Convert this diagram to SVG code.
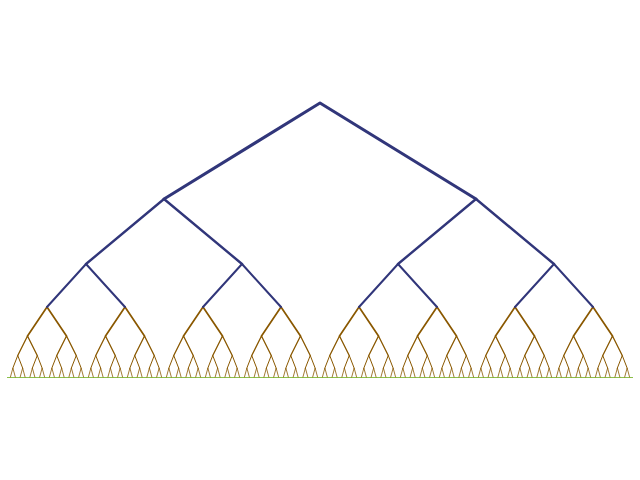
<svg xmlns="http://www.w3.org/2000/svg" xmlns:xlink="http://www.w3.org/1999/xlink" width="640" height="480" viewBox="0 0 640 480">
<style>
.n{fill:none;stroke:#31367a;stroke-linecap:round;stroke-linejoin:round}
.b{fill:none;stroke:#8a5800;stroke-linecap:round;stroke-linejoin:round}
</style>
<defs>
<g id="t6"><path class="b" stroke-width="0.8" d="M-2.4375,9 L0,0 L2.4375,9"/></g>
<g id="t5"><path class="b" stroke-width="1" d="M-4.875,12.5 L0,0 L4.875,12.5"/><use xlink:href="#t6" x="-4.875" y="12.5"/><use xlink:href="#t6" x="4.875" y="12.5"/></g>
<g id="t4"><path class="b" stroke-width="1.3" d="M-9.75,19.5 L0,0 L9.75,19.5"/><use xlink:href="#t5" x="-9.75" y="19.5"/><use xlink:href="#t5" x="9.75" y="19.5"/></g>
<g id="t3"><path class="b" stroke-width="1.7" d="M-19.5,29 L0,0 L19.5,29"/><use xlink:href="#t4" x="-19.5" y="29"/><use xlink:href="#t4" x="19.5" y="29"/></g>
</defs>
<line x1="7" y1="377.5" x2="633" y2="377.5" stroke="#8cc04a" stroke-width="1"/>
<g id="brown">
<use xlink:href="#t3" x="47" y="307"/>
<use xlink:href="#t3" x="125" y="307"/>
<use xlink:href="#t3" x="203" y="307"/>
<use xlink:href="#t3" x="281" y="307"/>
<use xlink:href="#t3" x="359" y="307"/>
<use xlink:href="#t3" x="437" y="307"/>
<use xlink:href="#t3" x="515" y="307"/>
<use xlink:href="#t3" x="593" y="307"/>
</g>
<g id="navy">
<path class="n" stroke-width="2" d="M47,307 L86,264 L125,307 M203,307 L242,264 L281,307 M359,307 L398,264 L437,307 M515,307 L554,264 L593,307"/>
<path class="n" stroke-width="2.4" d="M86,264 L164,199 L242,264 M398,264 L476,199 L554,264"/>
<path class="n" stroke-width="3" d="M164,199 L320,103 L476,199"/>
</g>
</svg>
